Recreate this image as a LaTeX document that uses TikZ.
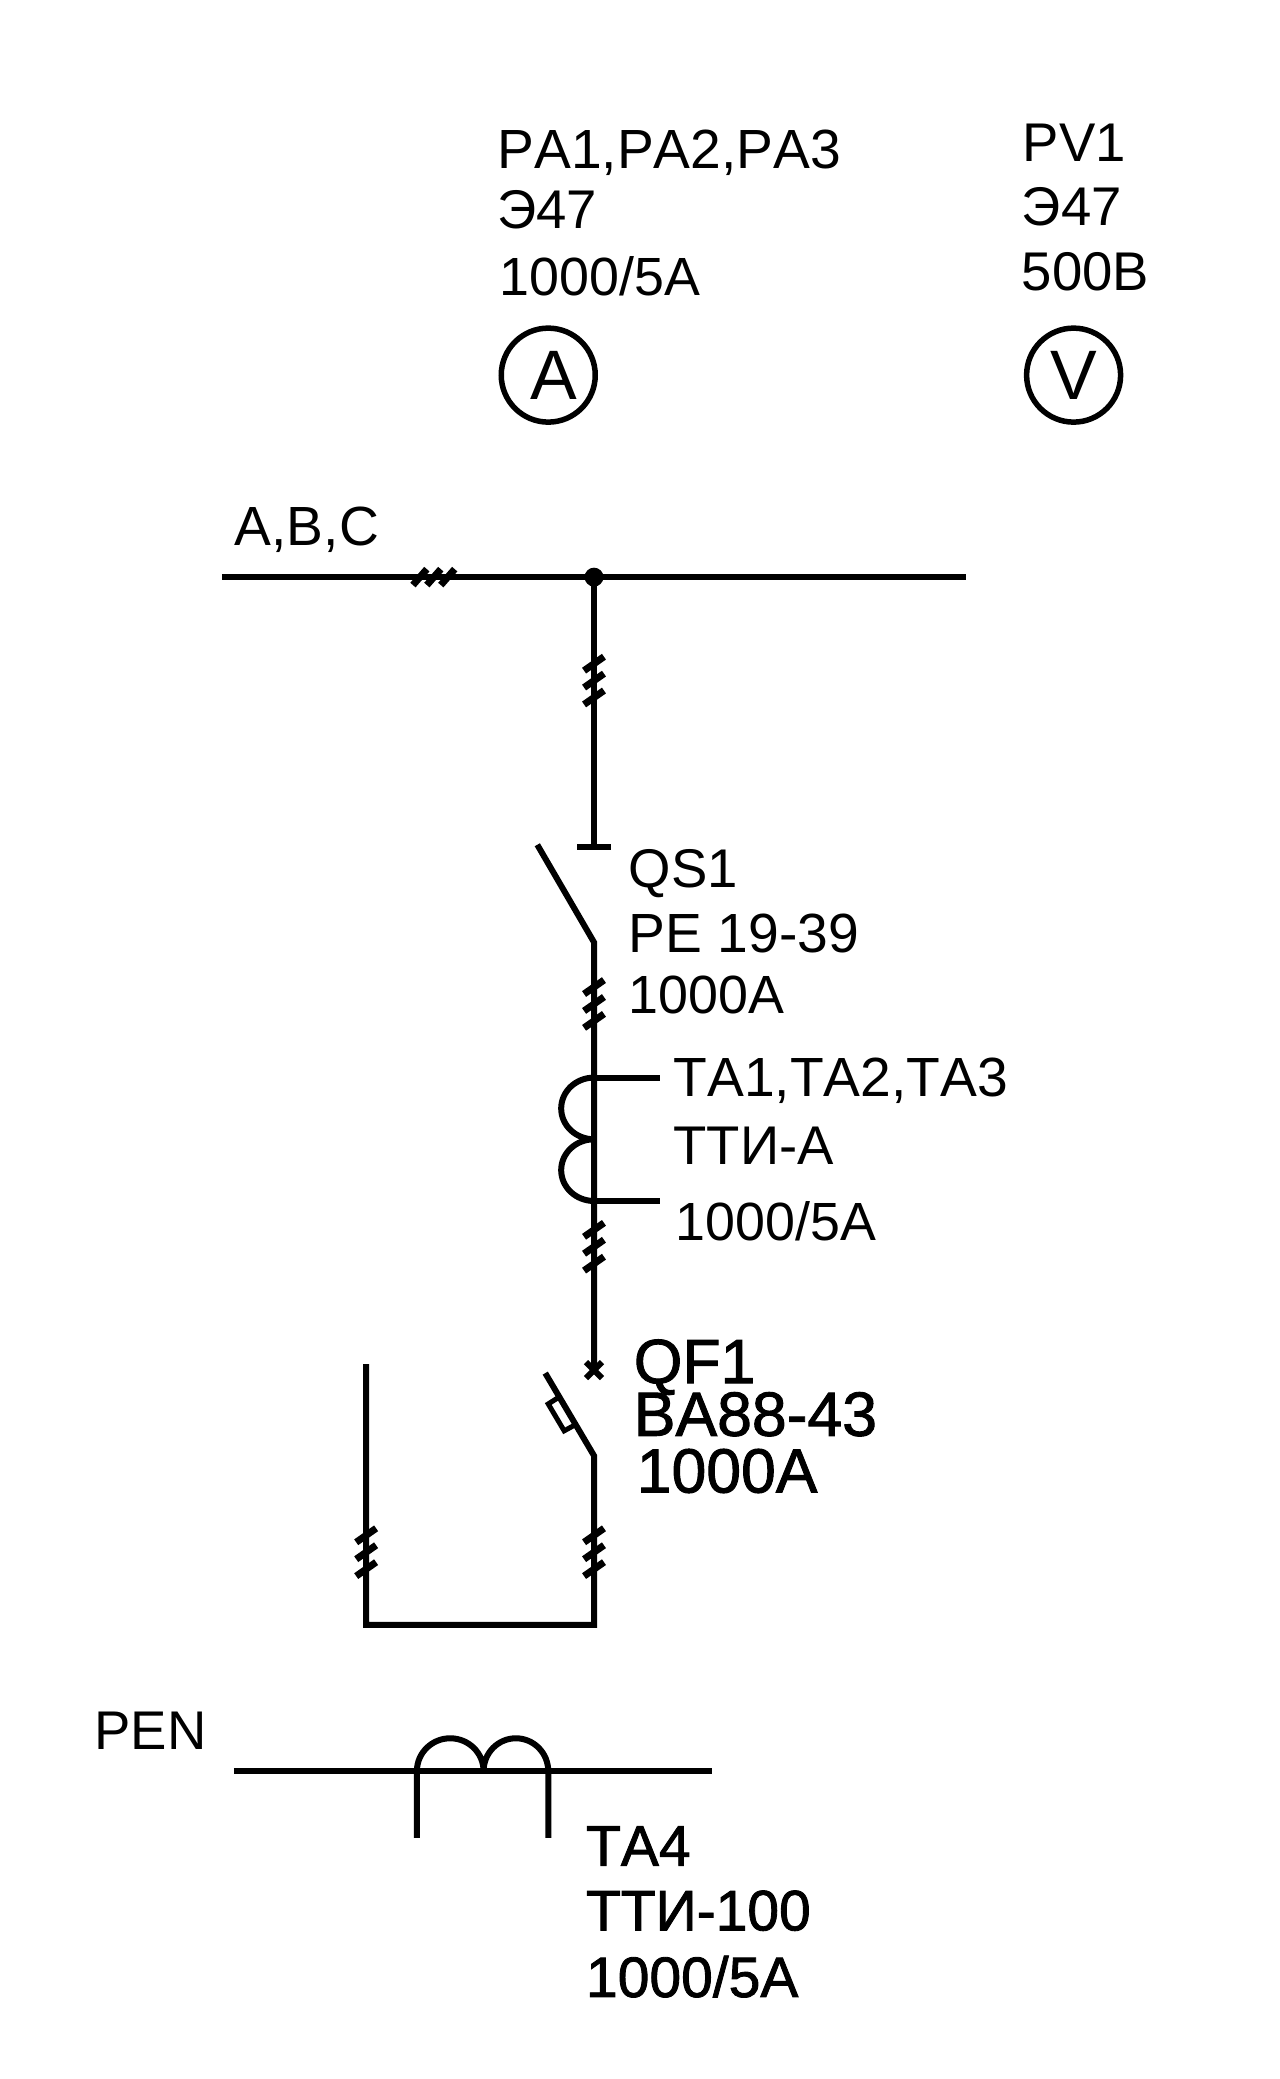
\documentclass[tikz,border=0pt]{standalone}
\usepackage{fontspec}
\usetikzlibrary{calc}
\setmainfont[Kerning=Off]{Liberation Sans}
\newfontfamily\heavyfont[FakeBold=1.5,Kerning=Off]{Liberation Sans}
\newcommand{\lblfont}{\fontsize{54.5}{55}\selectfont}
\newcommand{\qffont}{\heavyfont\fontsize{62.5}{63}\selectfont}
\newcommand{\tafont}{\heavyfont\fontsize{57}{57}\selectfont}
\tikzset{
  wire/.style={line width=6pt,line cap=butt,line join=miter},
  lbl/.style={anchor=base west,inner sep=0pt,outer sep=0pt,font=\lblfont},
  widelbl/.style={lbl,font=\fontsize{55.2}{55}\selectfont},
  narrowlbl/.style={lbl,font=\fontsize{53.8}{55}\selectfont},
  qflbl/.style={lbl,font=\qffont},
  talbl/.style={lbl,font=\tafont},
  meter/.style={circle,draw,line width=5.5pt,minimum size=94pt,inner sep=0pt,font=\fontsize{70}{70}\selectfont},
  vticks/.pic={
    \foreach \dy in {-17,0,17}
      \draw[line width=7pt] (-10,\dy+7) -- (10,\dy-7);
  },
  hticks/.pic={
    \foreach \dx in {-14,0,14}
      \draw[line width=7pt] (\dx-7,8) -- (\dx+7,-8);
  }
}
\begin{document}
\begin{tikzpicture}[x=0.995pt,y=-0.995pt]
\useasboundingbox[fill=white] (0,0) rectangle (1286.43,2089.45);
% meters
\node[meter] (mA) at (551,377) {\hspace*{11pt}A};
\node[meter] (mV) at (1079,377) {V};
% labels
\node[widelbl] (tPA) at (500,169) {PA1,PA2,PA3};
\node[lbl] (tPAb) at (500,230) {Э47};
\node[narrowlbl] (tPAc) at (502,297) {1000/5А};
\node[lbl] (tPV) at (1028,162) {PV1};
\node[lbl] (tPVb) at (1027,227) {Э47};
\node[lbl] (tPVc) at (1027,292) {500В};
\node[widelbl] (tABC) at (236,548) {A,B,C};
\node[lbl] (tQS) at (632,892) {QS1};
\node[widelbl] (tQSb) at (632,957) {РЕ 19-39};
\node[narrowlbl] (tQSc) at (632,1019) {1000А};
\node[widelbl] (tTA) at (677,1102) {TA1,TA2,TA3};
\node[lbl] (tTAb) at (677,1170) {ТТИ-А};
\node[narrowlbl] (tTAc) at (679,1247) {1000/5А};
\node[qflbl] (tQF) at (637,1390) {QF1};
\node[qflbl] (tQFb) at (637,1443) {ВА88-43};
\node[qflbl] (tQFc) at (640,1500) {1000А};
\node[lbl] (tPEN) at (95,1758) {PEN};
\node[talbl] (tTq) at (589,1875) {TA4};
\node[talbl] (tTqb) at (589,1940) {ТТИ-100};
\node[talbl] (tTqc) at (589,2007) {1000/5А};
% points
\coordinate (busL) at (223,580);
\coordinate (busR) at (971,580);
\coordinate (junc) at (597,580);
\coordinate (qsFix) at (597,851);
\coordinate (barL) at (580,851);
\coordinate (barR) at (614,851);
\coordinate (qsOpen) at (540,849);
\coordinate (qsHinge) at (597,947);
\coordinate (coilTop) at (597,1083);
\coordinate (coilMid) at (597,1145);
\coordinate (coilBot) at (597,1207);
\coordinate (leadTop) at (663,1083);
\coordinate (leadBot) at (663,1207);
\coordinate (qfStar) at (597,1377);
\coordinate (qfOpen) at (548,1380);
\coordinate (qfHinge) at (597,1463);
\coordinate (loopR) at (597,1633);
\coordinate (loopL) at (368,1633);
\coordinate (loopEnd) at (368,1371);
\coordinate (penL) at (235,1780);
\coordinate (penR) at (716,1780);
\coordinate (penA) at (419,1780);
\coordinate (penB) at (486,1780);
\coordinate (penC) at (551,1780);
\coordinate (penAe) at (419,1847);
\coordinate (penCe) at (551,1847);
% bus and feeder
\draw[wire] (busL) -- (busR);
\fill (junc) circle[radius=9.5];
\draw[wire] (junc) -- (qsFix);
\draw[wire] (barL) -- (barR);
\draw[wire] (qsOpen) -- (qsHinge) -- (qfStar);
% current transformer
\draw[wire] (coilTop) -- (leadTop);
\draw[wire] (coilBot) -- (leadBot);
\draw[wire] (coilTop) arc[start angle=90,end angle=270,x radius=33,y radius=-31];
\draw[wire] (coilMid) arc[start angle=90,end angle=270,x radius=33,y radius=-31];
% breaker
\draw[line width=6pt] ($(qfStar)+(-8,-8)$) -- ($(qfStar)+(8,8)$);
\draw[line width=6pt] ($(qfStar)+(8,-8)$) -- ($(qfStar)+(-8,8)$);
\draw[wire] (qfOpen) -- (qfHinge) -- (loopR) -- (loopL) -- (loopEnd);
\draw[line width=5pt,line join=miter] (562,1404) -- (551,1411) -- (567,1438) -- (578,1432);
% PEN
\draw[wire] (penL) -- (penR);
\draw[wire] (penAe) -- (penA) arc[start angle=180,end angle=0,x radius=33.5,y radius=-33]
  arc[start angle=180,end angle=0,x radius=32.5,y radius=-33] -- (penCe);
% ticks
\pic at (436,580) {hticks};
\pic at (597,684) {vticks};
\pic at (597,1009) {vticks};
\pic at (597,1253) {vticks};
\pic at (597,1560) {vticks};
\pic at (368,1560) {vticks};
\end{tikzpicture}
\end{document}
